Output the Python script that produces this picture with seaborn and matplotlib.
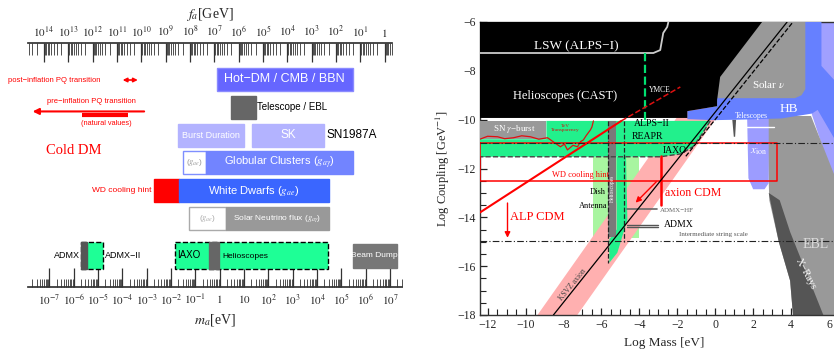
import matplotlib
matplotlib.use("Agg")
import matplotlib.pyplot as plt
import numpy as np
import seaborn as sns
from matplotlib.ticker import LogLocator, NullFormatter, MultipleLocator

sns.set_theme(style="white")
plt.rcParams["font.family"] = ["Liberation Serif", "DejaVu Serif"]
plt.rcParams["mathtext.fontset"] = "stix"
SANS = ["Liberation Sans", "DejaVu Sans"]

# ---------------- left panel data (log10 of m_a in eV) ----------------
FA_CONST = 6e6  # f_a[GeV] = FA_CONST / m_a[eV]
row_pos = [0, 1, 2, 3, 4, 5, 6.33]

bar_row = [0, 1, 2, 2, 3, 3, 4, 4, 5, 5, 6, 6, 6, 6, 6]
bar_lo = [-0.13, 0.46, -1.71, 1.33, -1.51, -0.56, -2.70, -1.67, -1.26, 0.26, -5.70, -5.70, -1.84, -0.44, 5.47]
bar_hi = [5.47, 1.49, 1.00, 4.29, -0.56, 5.47, -1.67, 4.49, 0.26, 4.49, -4.79, -5.45, 4.45, -0.03, 7.28]
bar_face = ["#6666ff", "#666666", "#b3b3ff", "#b3b3ff", "white", "#7284ff", "#ff0000", "#3a66ff",
            "white", "#999999", "#1eff96", "#555555", "#1eff96", "#666666", "#777777"]
bar_edge = ["#8a8aff", "#666666", "#b3b3ff", "#b3b3ff", "#7f8fff", "#7284ff", "#ff0000", "#3a66ff",
            "#aaaaaa", "#999999", "black", "#555555", "black", "#666666", "#777777"]
bar_dash = [False] * 10 + [True, False, True, False, False]

# labels: text, log10 x, row, colour, size, ha
left_text = [
    ("Hot−DM / CMB / BBN", 2.67, 0, "white", 9, "center"),
    ("Telescope / EBL", 1.55, 1, "black", 7, "left"),
    ("Burst Duration", -0.35, 2, "white", 6.5, "center"),
    ("SK", 2.81, 2, "white", 8.5, "center"),
    ("SN1987A", 4.4, 2, "black", 8.5, "left"),
    (r"($g_{ae}$)", -1.03, 3, "#999999", 6, "center"),
    (r"Globular Clusters ($g_{a\gamma}$)", 2.46, 3, "white", 8, "center"),
    ("WD cooling hint", -2.8, 4, "red", 6, "right"),
    (r"White Dwarfs ($g_{ae}$)", 1.41, 4, "white", 8, "center"),
    (r"($g_{ae}$)", -0.5, 5, "#aaaaaa", 6, "center"),
    (r"Solar Neutrino flux ($g_{a\gamma}$)", 2.37, 5, "white", 6, "center"),
    ("ADMX", -5.74, 6.33, "black", 6.5, "right"),
    ("ADMX−II", -4.71, 6.33, "black", 6.5, "left"),
    ("IAXO", -1.76, 6.3, "black", 7, "left"),
    ("Helioscopes", 0.1, 6.38, "black", 6, "left"),
    ("Beam Dump", 6.37, 6.33, "white", 6, "center"),
    ("post−inflation PQ transition", -8.70, 0.02, "red", 5.5, "left"),
    ("pre−inflation PQ transition", -7.1, 0.8, "red", 5.5, "left"),
    ("(natural values)", -4.67, 1.6, "red", 5.3, "center"),
]

# ---------------- right panel data (log10 mass [eV], log10 coupling [1/GeV]) ----------------
lav_mass = [4.7, 7.0, 7.0, 6.2, 5.1]
lav_coup = [-6.0, -6.0, -12.4, -12.4, -9.8]
ebl_mass = [2.75, 5.05, 6.3, 7.0, 7.0, 4.1, 3.95, 3.35, 2.85, 2.8]
ebl_coup = [-9.85, -9.85, -12.3, -12.3, -18.0, -18.0, -16.6, -15.0, -13.3, -12.0]
xray_mass = [2.82, 3.35, 3.95, 4.1, 5.7, 3.95, 3.4]
xray_coup = [-13.0, -15.0, -16.6, -18.0, -18.0, -14.6, -13.3]
xion_mass = [1.68, 2.82, 2.82, 2.6, 2.0, 1.75]
xion_coup = [-9.8, -9.8, -12.6, -12.85, -12.85, -12.4]
hb_mass = [-1.47, -1.47, 0.1, 0.1, 5.6, 5.6, 6.3, 7.0, 7.0, 6.3, 5.4, 5.1, 3.5, 1.3, -0.1]
hb_coup = [-9.98, -9.65, -9.45, -6.0, -6.0, -7.8, -8.4, -8.4, -11.2, -10.8, -9.6, -9.75, -9.95, -10.0, -10.02]
solar_mass = [0.1, 4.75, 4.75, 4.55, 4.2, 0.1]
solar_coup = [-6.0, -6.0, -8.75, -9.0, -9.12, -9.12]
black_mass = [-12.4, 2.47, 0.26, 0.1, 0.1, -1.47, -1.47, -12.4]
black_coup = [-6.0, -6.0, -8.25, -9.19, -9.45, -9.65, -9.93, -9.93]
tele_mass = [0.9, 1.1, 1.05, 0.98]
tele_coup = [-10.0, -10.0, -10.7, -10.7]

pink_mass = [-9.37, -7.27, 0.45, -1.65]
pink_coup = [-18.0, -18.0, -9.5, -9.5]
dish_mass = [-6.42, -4.0, -4.0, -6.42]
dish_coup = [-11.52, -11.52, -14.83, -14.83]
green_mass = [-12.4, -8.9, -8.9, -0.26, -0.7, -1.16, -1.8, -2.9, -12.4]
green_coup = [-10.8, -10.8, -10.05, -10.05, -10.6, -11.1, -11.4, -11.52, -11.52]
sn_mass = [-12.4, -8.9, -8.9, -12.4]
sn_coup = [-10.05, -10.05, -10.8, -10.8]
helio_mass = [-5.63, -5.25, -5.25, -5.63]
helio_coup = [-10.05, -10.05, -14.8, -14.8]
admxcol_mass = [-5.2, -4.7, -4.63, -5.16, -5.58, -5.58, -5.2]
admxcol_coup = [-11.52, -11.52, -14.1, -15.45, -15.86, -14.9, -14.5]

iaxo_mass = [-0.26, -0.7, -1.16, -1.8, -2.9, -12.4]
iaxo_coup = [-10.05, -10.6, -11.1, -11.4, -11.52, -11.52]
lsw_mass = [-12.4, -3.26, -2.9, -2.74, -2.53, -2.47]
lsw_coup = [-7.27, -7.27, -7.15, -6.45, -6.2, -6.0]
ymce_mass = [-3.7, -3.7]
ymce_coup = [-7.27, -10.0]
alp_mass = [-12.4, -4.95]
alp_coup = [-13.8, -10.05]
alp_dash_mass = [-4.95, -1.84]
alp_dash_coup = [-10.05, -8.66]
tev_mass = [-12.37, -12.0, -11.47, -11.1, -10.63, -10.2, -9.74, -9.3, -8.84, -8.53, -8.16,
            -7.95, -7.79, -7.5, -7.26, -7.1, -6.95, -6.8, -6.58, -6.5, -6.42]
tev_coup = [-10.79, -10.68, -10.70, -10.78, -10.74, -10.66, -10.70, -10.80, -10.74, -10.91, -11.11,
            -11.0, -11.24, -11.05, -11.11, -10.9, -10.83, -10.65, -10.42, -10.3, -10.05]
ksvz_mass = [-8.53, 3.79]
ksvz_coup = [-18.0, -6.0]
ksvz_dash_mass = [-1.55, 4.1]
ksvz_dash_coup = [-11.5, -6.0]
admx_hf_mass = [-4.63, -3.05]
admx_hf_coup = [-13.65, -13.65]
admx_mass = [-4.63, -3.0]
admx_coup = [[-14.30, -14.30], [-14.40, -14.40]]
acdm_mass = [-2.84, -2.84]
acdm_coup = [-11.48, -13.48]
tele_line_mass = [1.4, 3.1]
tele_line_coup = [-10.29, -10.29]
wd_box_mass = [-12.4, 3.26]
wd_box_coup = [-12.5, -10.95]
dashdot_coup = [-10.95, -14.95]

right_text = [
    ("LSW (ALPS−I)", -7.3, -7.0, "white", 9.5, "center", 0),
    ("Helioscopes (CAST)", -7.9, -9.03, "white", 9, "center", 0),
    ("YMCE", -3.5, -8.8, "white", 5.5, "left", 0),
    (r"SN $\gamma$−burst", -10.6, -10.37, "white", 6.5, "center", 0),
    ("TeV\nTransparency", -7.9, -10.35, "#d01010", 3.8, "center", 0),
    ("ALPS−II", -4.3, -10.17, "black", 7, "left", 0),
    ("REAPR", -4.4, -10.7, "black", 7, "left", 0),
    ("IAXO", -2.75, -11.28, "black", 7, "left", 0),
    ("WD cooling hint", -7.1, -12.26, "red", 6, "center", 0),
    ("Dish", -5.75, -12.95, "black", 6, "right", 0),
    ("Antenna", -5.7, -13.55, "black", 6, "right", 0),
    ("Helioscopes", -5.44, -12.8, "white", 4, "center", 90),
    ("axion CDM", -2.63, -13.0, "red", 8.5, "left", 0),
    ("ALP CDM", -10.8, -13.97, "red", 9, "left", 0),
    ("ADMX−HF", -2.9, -13.7, "#666666", 5, "left", 0),
    ("ADMX", -2.7, -14.3, "black", 7, "left", 0),
    ("Intermediate string scale", -1.9, -14.72, "#555555", 5, "left", 0),
    ("KSVZ axion", -7.5, -16.75, "#444444", 5.5, "center", 51),
    ("Solar $\\nu$", 2.8, -8.58, "white", 8, "center", 0),
    ("HB", 3.9, -9.55, "white", 9.5, "center", 0),
    ("Telescopes", 1.9, -9.85, "white", 5.5, "center", 0),
    (r"$x_{\rm ion}$", 2.3, -11.3, "white", 8, "center", 0),
    ("EBL", 5.3, -15.1, "#dddddd", 10, "center", 0),
    ("X−Rays", 4.75, -16.3, "white", 7.5, "center", -62),
]

W, H = 834, 352


def px_axes(x0, x1, y0, y1):
    return [x0 / W, 1 - y1 / H, (x1 - x0) / W, (y1 - y0) / H]


def dec_label(k, short_ten=True):
    if k == 0:
        return "$1$"
    if k == 1 and short_ten:
        return "$10$"
    return "$10^{%d}$" % k


fig = plt.figure(figsize=(8.34, 3.52), dpi=100)

# ================= left panel =================
ax = fig.add_axes(px_axes(28, 402, 43, 287))
ax.set_xscale("log")
ax.set_xlim(10 ** -7.875, 10 ** 7.49)
ax.set_ylim(7.46, -1.31)
for r, lo, hi, fc, ec, dsh in zip(bar_row, bar_lo, bar_hi, bar_face, bar_edge, bar_dash):
    y = row_pos[r]
    h = 0.97 if r == 6 else 0.83
    if r == 6 and fc == "#777777":
        h = 0.86
    ax.barh(y, 10 ** hi - 10 ** lo, left=10 ** lo, height=h, color=fc, edgecolor=ec,
            linewidth=1.0, linestyle="--" if dsh else "-", zorder=2)
for txt, lx, ry, col, fs, ha in left_text:
    ax.text(10 ** lx, ry, txt, color=col, fontsize=fs, ha=ha, va="center", family=SANS, zorder=4)
ax.text(10 ** -6.0, 2.54, "Cold DM", color="red", fontsize=10.5, ha="center", va="center")
# PQ arrows
ax.annotate("", xy=(10 ** -4.1, 0.02), xytext=(10 ** -3.25, 0.02),
            arrowprops=dict(arrowstyle="<|-|>", color="red", lw=1.2, mutation_scale=6))
ax.annotate("", xy=(10 ** -7.8, 1.15), xytext=(10 ** -2.99, 1.15), annotation_clip=False,
            arrowprops=dict(arrowstyle="-|>", color="red", lw=1.5, mutation_scale=9))
ax.plot([10 ** -5.65, 10 ** -3.76], [1.28, 1.28], color="red", lw=3, solid_capstyle="butt")

for s in ["left", "right", "top"]:
    ax.spines[s].set_visible(False)
ax.spines["bottom"].set_color("#333333")
ax.set_yticks([])
ax.set_xticks([10.0 ** k for k in range(-7, 8)], [dec_label(k) for k in range(-7, 8)])
ax.xaxis.set_minor_locator(LogLocator(base=10, subs=np.arange(2, 10), numticks=100))
ax.xaxis.set_minor_formatter(NullFormatter())
ax.tick_params(axis="x", which="major", direction="in", length=13.5, width=0.9, color="#333333",
               labelsize=8, pad=4, bottom=True)
ax.tick_params(axis="x", which="minor", direction="in", length=6, width=0.6, color="#333333", bottom=True)
ax.set_xlabel("$m_a$[eV]", fontsize=10, labelpad=3)

axt = fig.add_axes(px_axes(28, 392, 43, 287), facecolor="none")
axt.set_xscale("log")
axt.set_xlim(FA_CONST * 10 ** 7.875, FA_CONST / 10 ** 7.08)
axt.set_ylim(0, 1)
axt.xaxis.tick_top()
axt.xaxis.set_label_position("top")
for s in ["left", "right", "bottom"]:
    axt.spines[s].set_visible(False)
axt.spines["top"].set_color("#333333")
axt.set_yticks([])
axt.set_xticks([10.0 ** k for k in range(0, 15)], [dec_label(k, False) for k in range(0, 15)])
axt.xaxis.set_minor_locator(LogLocator(base=10, subs=np.arange(2, 10), numticks=100))
axt.xaxis.set_minor_formatter(NullFormatter())
axt.tick_params(axis="x", which="major", direction="in", length=13.5, width=0.9, color="#333333",
                labelsize=8, pad=3, top=True, bottom=False)
axt.tick_params(axis="x", which="minor", direction="in", length=8.5, width=0.6, color="#333333",
                top=True, bottom=False)
axt.set_xlabel("$f_a$[GeV]", fontsize=10, labelpad=4)

# ================= right panel =================
axr = fig.add_axes(px_axes(480, 848, 22, 315))
axr.set_xlim(-12.4, 7.0)
axr.set_ylim(-18, -6)

axr.fill(lav_mass, lav_coup, color="#a0a0ff", lw=0, zorder=1)
axr.fill(dish_mass, dish_coup, color="#a8f5a0", lw=0, zorder=1.2)
axr.fill(pink_mass, pink_coup, color="#ffb0b0", lw=0, zorder=1.4)
axr.fill(ebl_mass, ebl_coup, color="#999999", lw=0, zorder=2)
axr.fill(xray_mass, xray_coup, color="#555555", lw=0, zorder=2.1)
axr.fill(xion_mass, xion_coup, color="#9c9cff", lw=0, zorder=2.2)
axr.fill(tele_mass, tele_coup, color="#555555", lw=0, zorder=2.3)
axr.fill(hb_mass, hb_coup, color="#6680ff", lw=0, zorder=3)
axr.fill(solar_mass, solar_coup, color="#999999", lw=0, zorder=3.1)
axr.fill(black_mass, black_coup, color="black", lw=0, zorder=3.2)
axr.fill(green_mass, green_coup, color="#22f08c", lw=0, zorder=4)
axr.fill(sn_mass, sn_coup, color="#999999", lw=0, zorder=4.1)
axr.fill(helio_mass, helio_coup, color="#7a7a7a", lw=0, zorder=4.5)
axr.fill(admxcol_mass, admxcol_coup, color="#22f08c", lw=0, zorder=4.4)

line_kw = dict(ax=axr, sort=False, estimator=None, legend=False)
sns.lineplot(x=iaxo_mass, y=iaxo_coup, color="#444444", lw=1.0, linestyle="--", zorder=5, **line_kw)
for xm in [-5.63, -4.8]:
    sns.lineplot(x=[xm, xm], y=[-10.05, -15.86 if xm < -5 else -15.0], color="#222222", lw=0.9,
                 linestyle="--", zorder=5, **line_kw)
sns.lineplot(x=lsw_mass, y=lsw_coup, color="#cccccc", lw=1.3, zorder=5, **line_kw)
sns.lineplot(x=ymce_mass, y=ymce_coup, color="#00e070", lw=1.6, linestyle="--", zorder=5, **line_kw)
sns.lineplot(x=tev_mass, y=tev_coup, color="#e01010", lw=0.9, zorder=5, **line_kw)
sns.lineplot(x=alp_mass, y=alp_coup, color="red", lw=1.5, zorder=6, **line_kw)
sns.lineplot(x=alp_dash_mass, y=alp_dash_coup, color="#dd1010", lw=1.1, linestyle="--", zorder=6, **line_kw)
sns.lineplot(x=ksvz_mass, y=ksvz_coup, color="black", lw=0.9, zorder=7, **line_kw)
sns.lineplot(x=ksvz_dash_mass, y=ksvz_dash_coup, color="black", lw=0.9, linestyle="--", zorder=7, **line_kw)
sns.lineplot(x=admx_hf_mass, y=admx_hf_coup, color="#666666", lw=1.2, zorder=6, **line_kw)
for yy in admx_coup:
    sns.lineplot(x=admx_mass, y=yy, color="#555555", lw=1.0, zorder=6, **line_kw)
sns.lineplot(x=acdm_mass, y=acdm_coup, color="red", lw=1.8, zorder=6, **line_kw)
sns.lineplot(x=tele_line_mass, y=tele_line_coup, color="white", lw=1.0, zorder=6, **line_kw)
axr.plot([wd_box_mass[0], wd_box_mass[1], wd_box_mass[1], wd_box_mass[0], wd_box_mass[0]],
         [wd_box_coup[1], wd_box_coup[1], wd_box_coup[0], wd_box_coup[0], wd_box_coup[1]],
         color="red", lw=1.1, zorder=6.5)
for yy in dashdot_coup:
    axr.axhline(yy, color="#222222", lw=0.8, linestyle=(0, (6, 2, 1, 2)), zorder=6.6)

axr.annotate("", xy=(-4.3, -13.48), xytext=(-3.0, -12.46),
             arrowprops=dict(arrowstyle="-|>", color="red", lw=1.0, mutation_scale=8), zorder=7)
axr.annotate("", xy=(-10.95, -14.95), xytext=(-10.95, -13.3),
             arrowprops=dict(arrowstyle="-|>", color="red", lw=1.0, mutation_scale=8), zorder=7)

for txt, xm, yc, col, fs, ha, rot in right_text:
    axr.text(xm, yc, txt, color=col, fontsize=fs, ha=ha, va="center", rotation=rot,
             linespacing=0.9, zorder=8)

axr.xaxis.set_major_locator(MultipleLocator(2))
axr.xaxis.set_minor_locator(MultipleLocator(0.5))
axr.yaxis.set_major_locator(MultipleLocator(2))
axr.yaxis.set_minor_locator(MultipleLocator(0.5))
axr.tick_params(which="both", direction="in", top=True, right=True, bottom=True, left=True,
                color="#222222", labelsize=8.5, pad=3)
axr.tick_params(which="major", length=5, width=0.9)
axr.tick_params(which="minor", length=4, width=0.8)
for s in axr.spines.values():
    s.set_color("#333333")
    s.set_linewidth(1.0)
axr.set_xlabel("Log Mass [eV]", fontsize=9.5, labelpad=4)
axr.set_ylabel("Log Coupling [GeV$^{-1}$]", fontsize=9, labelpad=4)

fig.savefig("out.png", dpi=100)
